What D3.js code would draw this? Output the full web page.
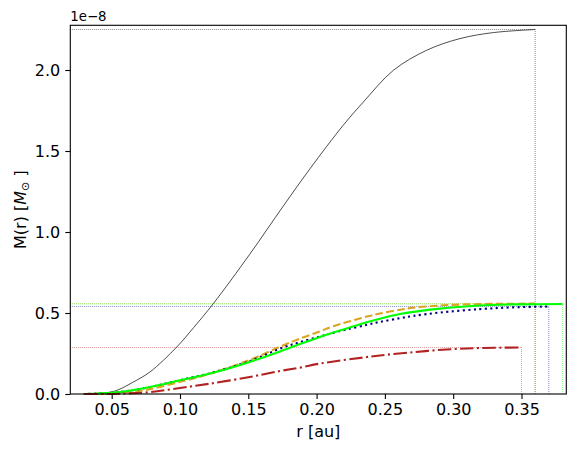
<!DOCTYPE html>
<html>
<head>
<meta charset="utf-8">
<script src="https://cdn.jsdelivr.net/npm/d3@7"></script>
<style>
  body { margin: 0; background: #fff; }
  svg { display: block; font-family: "DejaVu Sans", sans-serif; }
</style>
</head>
<body>
<div id="chart"></div>
<script>
// radius in au, enclosed mass in units of 1e-8 Msun
const rBlack = [0.029, 0.04, 0.05, 0.056, 0.065, 0.078, 0.0976, 0.11, 0.1244, 0.151, 0.1756, 0.1952, 0.2195, 0.2342, 0.2562, 0.2806, 0.305, 0.3294, 0.36];
const mBlack = [0.0, 0.004, 0.013, 0.03, 0.07, 0.136, 0.29, 0.41, 0.558, 0.862, 1.16, 1.391, 1.659, 1.802, 1.998, 2.122, 2.194, 2.231, 2.25];

const rOrange = [0.035, 0.05, 0.065, 0.078, 0.1, 0.122, 0.151, 0.1733, 0.1878, 0.2025, 0.2122, 0.2367, 0.2464, 0.2611, 0.2708, 0.2855, 0.2952, 0.32, 0.34, 0.36];
const mOrange = [0.0, 0.003, 0.012, 0.03, 0.075, 0.125, 0.21, 0.292, 0.342, 0.387, 0.418, 0.478, 0.497, 0.52, 0.533, 0.543, 0.549, 0.555, 0.557, 0.558];

const rBlue = [0.029, 0.04, 0.056, 0.078, 0.1, 0.122, 0.151, 0.1756, 0.1878, 0.2025, 0.2122, 0.222, 0.2367, 0.2464, 0.2611, 0.2708, 0.2903, 0.3196, 0.344, 0.37];
const mBlue = [0.0, 0.003, 0.012, 0.043, 0.086, 0.128, 0.203, 0.288, 0.32, 0.355, 0.378, 0.398, 0.427, 0.445, 0.468, 0.482, 0.503, 0.524, 0.535, 0.54];

const rGreen = [0.029, 0.04, 0.056, 0.078, 0.1, 0.122, 0.151, 0.1756, 0.1878, 0.2025, 0.2122, 0.222, 0.2367, 0.2464, 0.2611, 0.2903, 0.3196, 0.344, 0.38];
const mGreen = [0.0, 0.003, 0.012, 0.043, 0.085, 0.126, 0.198, 0.27, 0.308, 0.352, 0.38, 0.405, 0.443, 0.465, 0.494, 0.527, 0.546, 0.553, 0.556];

const rRed = [0.03, 0.045, 0.06, 0.078, 0.1, 0.122, 0.151, 0.1733, 0.1878, 0.2025, 0.2367, 0.2464, 0.2708, 0.2952, 0.32, 0.35];
const mRed = [0.0, 0.0, 0.003, 0.012, 0.037, 0.064, 0.105, 0.142, 0.163, 0.188, 0.228, 0.238, 0.258, 0.275, 0.284, 0.287];

const xTicks = [0.05, 0.10, 0.15, 0.20, 0.25, 0.30, 0.35];
const yTicks = [0.0, 0.5, 1.0, 1.5, 2.0];

const width = 575, height = 450;
const padLeft = 70.3, padRight = 566.3, padTop = 25.3, padBottom = 394;

const x = d3.scaleLinear().domain([0.0197, 0.3828]).range([padLeft, padRight]);
const y = d3.scaleLinear().domain([0, 2.276]).range([padBottom, padTop]);

// drawing order as in the figure
const series = [
  {r: rBlack, m: mBlack, color: "black", width: 0.7, dash: null},
  {r: rOrange, m: mOrange, color: "goldenrod", width: 2.1, dash: "7.7,3.3"},
  {r: rBlue, m: mBlue, color: "navy", width: 2.1, dash: "2.1,3.4"},
  {r: rGreen, m: mGreen, color: "lime", width: 2.1, dash: null},
  {r: rRed, m: mRed, color: "firebrick", width: 2.1, dash: "13.4,3.4,2.1,3.4"}
];

const svg = d3.select("#chart").append("svg")
    .attr("width", width)
    .attr("height", height);

const plot = svg.append("g");

// thin dotted guides: max value and outer radius of each curve
series.forEach(s => {
  const rEnd = d3.max(s.r), mMax = d3.max(s.m);
  plot.append("line")
      .attr("x1", x.range()[0]).attr("x2", x(rEnd))
      .attr("y1", y(mMax)).attr("y2", y(mMax))
      .attr("stroke", s.color).attr("stroke-width", 0.7)
      .attr("stroke-dasharray", "0.8,1.2").attr("opacity", 0.8);
  plot.append("line")
      .attr("x1", x(rEnd)).attr("x2", x(rEnd))
      .attr("y1", y(0)).attr("y2", y(mMax))
      .attr("stroke", s.color).attr("stroke-width", 0.7)
      .attr("stroke-dasharray", "0.8,1.2").attr("opacity", 0.8);
});

const line = d3.line()
    .x(d => x(d[0]))
    .y(d => y(d[1]))
    .curve(d3.curveCatmullRom.alpha(0.5));

series.forEach(s => {
  plot.append("path")
      .datum(d3.zip(s.r, s.m))
      .attr("fill", "none")
      .attr("stroke", s.color)
      .attr("stroke-width", s.width)
      .attr("stroke-dasharray", s.dash)
      .attr("d", line);
});

// axes
const xAxis = svg.append("g")
    .attr("transform", `translate(0,${padBottom})`)
    .call(d3.axisBottom(x).tickValues(xTicks).tickFormat(d3.format(".2f")).tickSize(5).tickPadding(5));
const yAxis = svg.append("g")
    .attr("transform", `translate(${padLeft},0)`)
    .call(d3.axisLeft(y).tickValues(yTicks).tickFormat(d3.format(".1f")).tickSize(5).tickPadding(5));

[xAxis, yAxis].forEach(g => {
  g.select(".domain").remove();
  g.selectAll(".tick line").attr("stroke", "black").attr("stroke-width", 1.1);
  g.selectAll(".tick text")
      .attr("fill", "black")
      .style("font-size", "16px")
      .style("font-family", "DejaVu Sans");
});

// frame
svg.append("rect")
    .attr("x", padLeft).attr("y", padTop)
    .attr("width", padRight - padLeft).attr("height", padBottom - padTop)
    .attr("fill", "none").attr("stroke", "black").attr("stroke-width", 1.1);

// offset text
svg.append("text")
    .attr("x", padLeft).attr("y", 20.7)
    .style("font-size", "13.3px")
    .text("1e\u22128");

// labels
svg.append("text")
    .attr("x", (padLeft + padRight) / 2).attr("y", 437)
    .attr("text-anchor", "middle")
    .style("font-size", "16px")
    .text("r [au]");

const yl = svg.append("text")
    .attr("transform", `translate(26,${(padTop + padBottom) / 2}) rotate(-90)`)
    .attr("text-anchor", "middle")
    .style("font-size", "16px");
yl.append("tspan").text("M(r) [");
yl.append("tspan").style("font-style", "italic").text("M");
yl.append("tspan").attr("dy", 3).style("font-size", "11px").text("\u2299");
yl.append("tspan").attr("dy", -3).text(" ]");
</script>
</body>
</html>
